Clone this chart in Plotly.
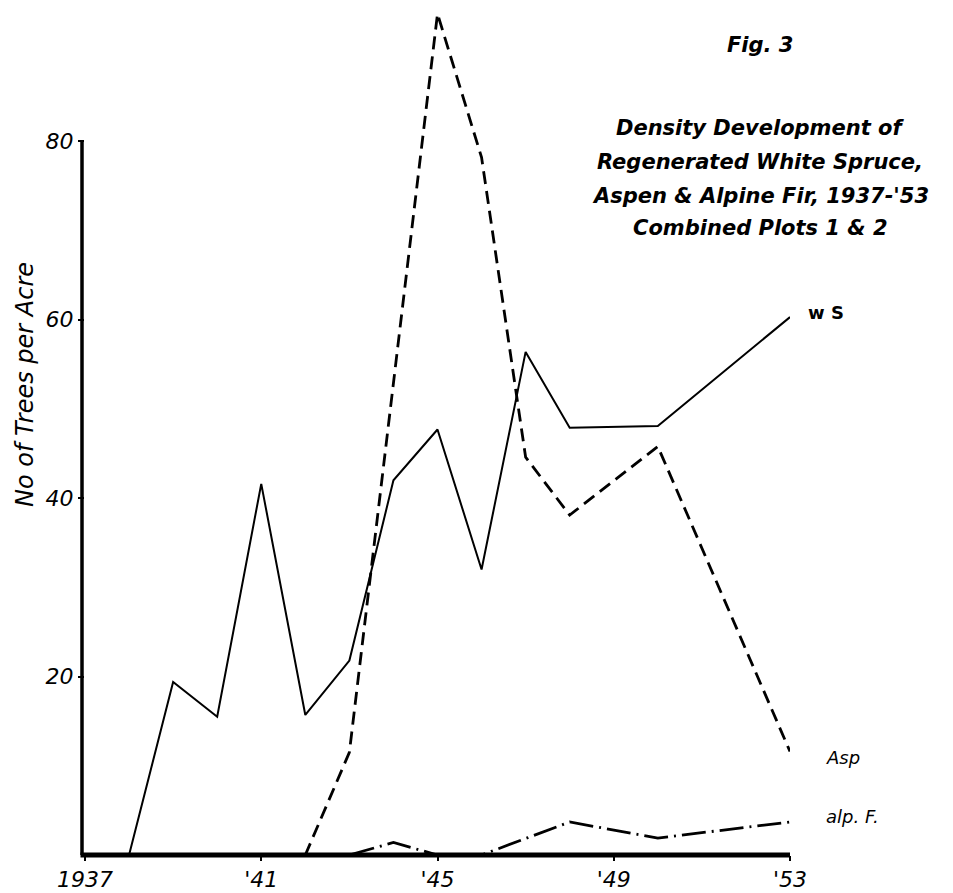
import plotly.graph_objects as go

# ---- data ----
ws_years = [1937, 1938, 1939, 1940, 1941, 1942, 1943, 1944, 1945, 1946, 1947, 1948, 1950, 1953]
ws_vals = [0, 0, 19.4, 15.5, 41.6, 15.7, 21.8, 42.0, 47.7, 32.0, 56.4, 47.9, 48.1, 60.3]

asp_years = [1937, 1938, 1939, 1940, 1941, 1942, 1943, 1945, 1946, 1947, 1948, 1950, 1953]
asp_vals = [0, 0, 0, 0, 0, 0, 11.5, 94.3, 78.2, 44.6, 38.1, 45.8, 11.6]

alp_years = [1937, 1943, 1944, 1945, 1946, 1948, 1950, 1953]
alp_vals = [0, 0, 1.4, 0, 0, 3.7, 1.9, 3.7]

x_tickvals = [1937, 1941, 1945, 1949, 1953]
x_ticktext = ["1937", "'41", "'45", "'49", "'53"]
y_tickvals = [20, 40, 60, 80]
y_ticktext = ["20", "40", "60", "80"]

title_lines = ["Fig. 3", "Density Development of", "Regenerated White Spruce,",
               "Aspen & Alpine Fir, 1937-'53", "Combined Plots 1 & 2"]
series_labels = ["w S", "Asp", "alp. F."]

# ---- figure ----
W, H = 953, 893
OFF = 8  # page body margin in the browser
L, R, T, B = 77, 171, 4, 46
Y_MAX = 94.5
plot_w = W - L - R
plot_h = H - T - B

def px_x(px):
    return (px - OFF - L) / plot_w

def px_y(py):
    return (H - B + OFF - py) / plot_h

fig = go.Figure()
fig.add_trace(go.Scatter(x=ws_years, y=ws_vals, mode="lines",
                         line=dict(color="black", width=2), name="w S"))
fig.add_trace(go.Scatter(x=asp_years, y=asp_vals, mode="lines",
                         line=dict(color="black", width=2.8, dash="13px,7px"), name="Asp"))
fig.add_trace(go.Scatter(x=alp_years, y=alp_vals, mode="lines",
                         line=dict(color="black", width=2.8, dash="24px,6px,2px,6px"), name="alp. F."))

# axes drawn as paper-referenced shapes (y axis stops at 80 in the original)
ax_x0 = -3.0 / plot_w
fig.add_shape(type="line", x0=ax_x0, x1=ax_x0, y0=0, y1=80 / Y_MAX, xref="paper", yref="paper",
              line=dict(color="black", width=3.5))
fig.add_shape(type="line", x0=ax_x0 - 1.5 / plot_w, x1=1, y0=0, y1=0, xref="paper", yref="paper",
              line=dict(color="black", width=5))

FONT = "'DejaVu Sans', Verdana, sans-serif"
tick_font = dict(family=FONT, size=22, color="black", style="italic")
fig.update_xaxes(range=[1937, 1953], tickvals=x_tickvals, ticktext=x_ticktext,
                 showgrid=False, zeroline=False, showline=False,
                 ticks="outside", ticklen=5, tickwidth=1.5, tickcolor="black",
                 tickfont=tick_font)
fig.update_yaxes(range=[0, Y_MAX], tickvals=y_tickvals, ticktext=y_ticktext,
                 showgrid=False, zeroline=False, showline=False,
                 ticks="outside", ticklen=6, tickwidth=1.5, tickcolor="black",
                 tickfont=tick_font)

# y axis title
fig.add_annotation(text="No of Trees per Acre", xref="paper", yref="paper",
                   x=px_x(25), y=px_y(385), textangle=-90, showarrow=False,
                   xanchor="center", yanchor="middle",
                   font=dict(family=FONT, size=24, color="black", style="italic"))

# title block
title_y = [45, 128, 162, 196, 228]
for txt, ty in zip(title_lines, title_y):
    fig.add_annotation(text=txt, xref="paper", yref="paper", x=px_x(760), y=px_y(ty),
                       showarrow=False, xanchor="center", yanchor="middle",
                       font=dict(family=FONT, size=21, color="black",
                                 style="italic", weight=700))

# series labels
fig.add_annotation(text=series_labels[0], xref="paper", yref="paper", x=px_x(806), y=px_y(313),
                   showarrow=False, xanchor="left", yanchor="middle",
                   font=dict(family=FONT, size=18, color="black", weight=700))
fig.add_annotation(text=series_labels[1], xref="paper", yref="paper", x=px_x(824), y=px_y(757),
                   showarrow=False, xanchor="left", yanchor="middle",
                   font=dict(family=FONT, size=18, color="black", style="italic"))
fig.add_annotation(text=series_labels[2], xref="paper", yref="paper", x=px_x(824), y=px_y(816),
                   showarrow=False, xanchor="left", yanchor="middle",
                   font=dict(family=FONT, size=18, color="black", style="italic"))

fig.update_layout(width=W, height=H, margin=dict(l=L, r=R, t=T, b=B),
                  plot_bgcolor="white", paper_bgcolor="white", showlegend=False)

fig.write_html("out.html")
